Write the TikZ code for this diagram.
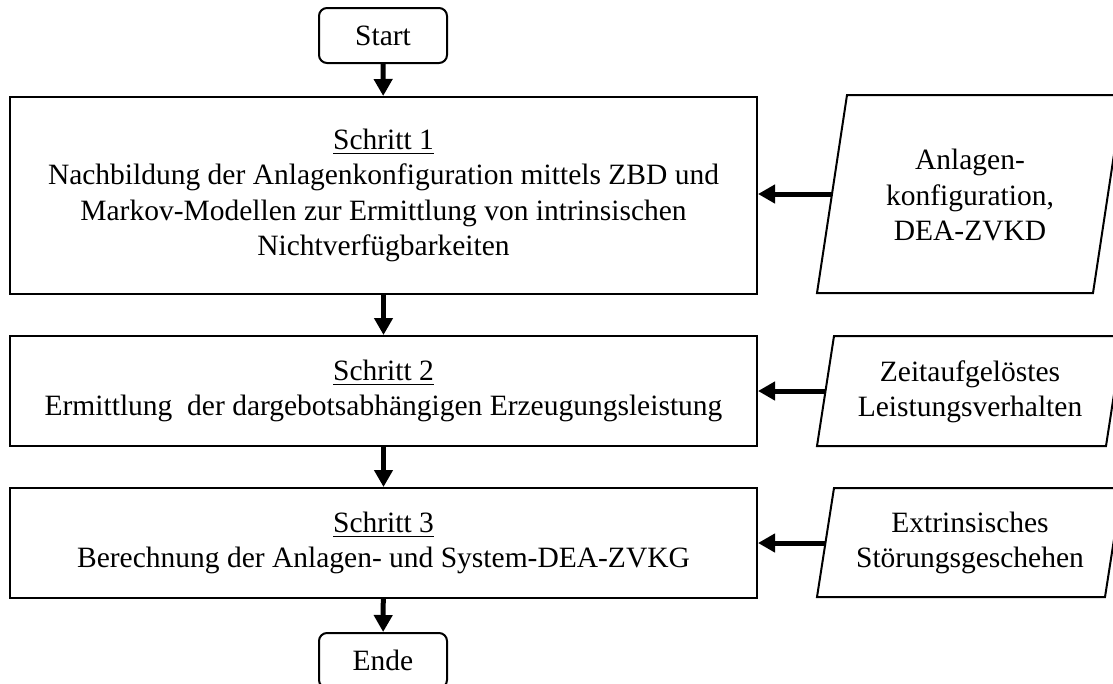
\documentclass[tikz,border=0pt]{standalone}
\usepackage{fontspec}
\setmainfont{Liberation Serif}
\usetikzlibrary{arrows.meta}

% underlined step heading
\newcommand\stephead[1]{\setbox0\hbox{#1}\leavevmode\rlap{\rule[-5pt]{\wd0}{1.8pt}}\box0}

\begin{document}
\begin{tikzpicture}[x=1pt,y=-1pt,
  every node/.style={font=\fontsize{29.5}{35.5}\selectfont, inner sep=0pt, align=center},
  term/.style={draw, line width=2pt, rounded corners=8pt, minimum width=128pt, minimum height=55pt},
  stepbox/.style={draw, line width=2pt, minimum width=747pt, minimum height=#1},
  flow/.style={line width=5pt, -{Triangle[length=17pt,width=18pt]}},
  datashape/.style={draw, line width=2pt, line join=miter}
]
\useasboundingbox (0,0) rectangle (1113,683);

% terminals
\node[term] (start) at (383,35.5) {Start};
\node[term] (ende)  at (383,660.5) {Ende};

% process steps
\node[stepbox=197pt] (s1) at (383.5,195.5) {\stephead{Schritt 1}\\
  Nachbildung der Anlagenkonfiguration mittels ZBD und\\
  Markov-Modellen zur Ermittlung von intrinsischen\\
  Nichtverfügbarkeiten};
\node[stepbox=110pt] (s2) at (383.5,391) {\stephead{Schritt 2}\\
  Ermittlung\ \ der dargebotsabhängigen Erzeugungsleistung};
\node[stepbox=110pt] (s3) at (383.5,543) {\stephead{Schritt 3}\\
  Berechnung der Anlagen- und System-DEA-ZVKG};

% input data (parallelograms)
\draw[datashape] (817,293) -- (847,95) -- (1123,95) -- (1093,293) -- cycle;
\node (p1) at (970,195) {Anlagen-\\konfiguration,\\DEA-ZVKD};
\coordinate (p1in) at (832,194);

\draw[datashape] (817,446) -- (834,336) -- (1123,336) -- (1106,446) -- cycle;
\node (p2) at (970,392) {Zeitaufgelöstes\\Leistungsverhalten};
\coordinate (p2in) at (825.5,391);

\draw[datashape] (817,597) -- (834,488) -- (1122,488) -- (1105,597) -- cycle;
\node (p3) at (970,543) {Extrinsisches\\Störungsgeschehen};
\coordinate (p3in) at (825.5,543);

% main flow
\draw[flow] (start) -- (s1);
\draw[flow] (s1) -- (s2);
\draw[flow] (s2) -- (s3);
\draw[flow] (s3) -- (ende);

% data inputs
\draw[flow] (p1in) -- (p1in -| s1.east);
\draw[flow] (p2in) -- (p2in -| s2.east);
\draw[flow] (p3in) -- (p3in -| s3.east);
\end{tikzpicture}
\end{document}
